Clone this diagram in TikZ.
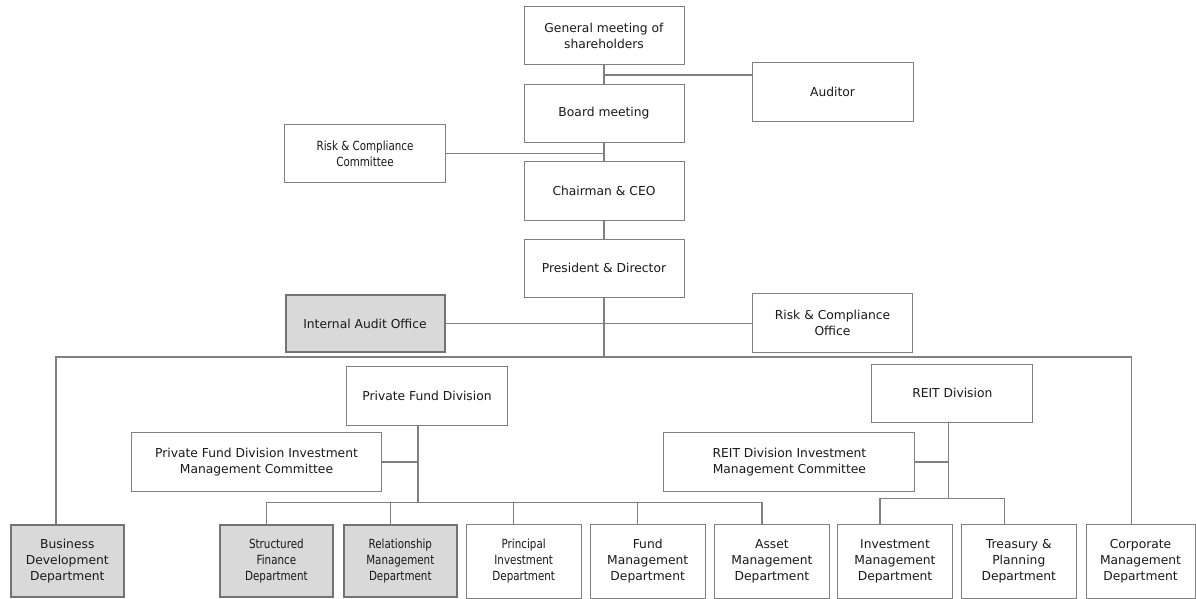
\documentclass[tikz,border=0pt]{standalone}
\usepackage{fontspec}
\setmainfont{DejaVu Sans}
\newfontfamily\narrowfont[FakeStretch=0.82]{DejaVu Sans}
\usepackage{tikz}
\usetikzlibrary{calc}

\definecolor{linegray}{RGB}{128,128,128}
\definecolor{boxfill}{RGB}{217,217,217}
\tikzset{
	box/.style={draw=linegray, line width=1pt, fill=white, inner sep=0pt, align=center,
		text=black!90, font=\fontsize{12.3}{16}\selectfont},
	greybox/.style={box, fill=boxfill, draw=black!55, line width=2pt},
	narrow/.style={font=\narrowfont\fontsize{12.6}{16}\selectfont},
	link/.style={draw=linegray, line width=1.2pt},
}

\begin{document}
\begin{tikzpicture}[x=1pt, y=-1pt]
		\useasboundingbox (0,0) rectangle (1196,599);
		
		\node[box, minimum width=160, minimum height=57.6] (GM) at (604,35.5){General meeting of\\shareholders};
		\node[box, minimum width=161, minimum height=58.7] (AUD) at (832.5,91.7){Auditor};
		\node[box, minimum width=160, minimum height=58.7] (BM) at (604,113.4){Board meeting};
		\node[box, narrow, minimum width=161, minimum height=58.4] (RCC) at (365,153.5){Risk \& Compliance\\Committee};
		\node[box, minimum width=160, minimum height=58.7] (CEO) at (604,191.3){Chairman \& CEO};
		\node[box, minimum width=160, minimum height=58] (PD) at (604,268){President \& Director};
		\node[greybox, minimum width=159, minimum height=57] (IAO) at (365,323.5){Internal Audit Office};
		\node[box, minimum width=160, minimum height=59] (RCO) at (832.5,322.5){Risk \& Compliance\\Office};
		
		\node[box, minimum width=161, minimum height=58.3] (PFD) at (427,396){Private Fund Division};
		\node[box, minimum width=250, minimum height=58.3] (PFC) at (256.5,462){Private Fund Division Investment\\Management Committee};
		\node[box, minimum width=161, minimum height=58.7] (RD) at (952.3,393.4){REIT Division};
		\node[box, minimum width=251, minimum height=58.3] (RDC) at (789.4,462){REIT Division Investment\\Management Committee};
		
		\node[greybox, minimum width=113.5, minimum height=72] (BDD) at (67.3,561){Business\\Development\\Department};
		\node[greybox, narrow, minimum width=113, minimum height=72] (SFD) at (276.4,561){Structured\\Finance\\Department};
		\node[greybox, narrow, minimum width=113, minimum height=72] (RMD) at (400.3,561){Relationship\\Management\\Department};
		\node[box, narrow, minimum width=115, minimum height=74] (PID) at (523.7,561){Principal\\Investment\\Department};
		\node[box, minimum width=115, minimum height=74] (FMD) at (647.7,561){Fund\\Management\\Department};
		\node[box, minimum width=115, minimum height=74] (AMD) at (771.9,561){Asset\\Management\\Department};
		\node[box, minimum width=115, minimum height=74] (IMD) at (895,561){Investment\\Management\\Department};
		\node[box, minimum width=115, minimum height=74] (TPD) at (1018.8,561){Treasury \&\\Planning\\Department};
		\node[box, minimum width=109, minimum height=74] (CMD) at (1140.5,561){Corporate\\Management\\Department};
		
		\coordinate (J1) at (604,75);
		\coordinate (BUS) at (604,357);
		\coordinate (BL) at (56,357);
		\coordinate (BR) at (1131.6,357);
		\coordinate (PFV) at (418,502.7);
		\coordinate (RDV) at (948.3,498.3);
		
		\draw[link] (GM.south) -- (BM.north);
		\draw[link] (J1) -- (J1 -| AUD.west);
		\draw[link] (BM.south) -- (CEO.north);
		\draw[link] (RCC.east) -- (RCC.east -| CEO.north);
		\draw[link] (CEO.south) -- (PD.north);
		\draw[link] (PD.south) -- (BUS);
		\draw[link] (IAO.east) -- (IAO.east -| RCO.west);
		\draw[link] (BL |- BDD.north) -- (BL) -- (BR) -- (BR |- CMD.north);
		
		\draw[link] ([xshift=-9pt]PFD.south) -- (PFV);
		\draw[link] (PFC.east) -- (PFC.east -| PFV);
		\draw[link] ([xshift=-10pt]SFD.north) -- ([xshift=-10pt]SFD.north |- PFV) -- ([xshift=-10pt]AMD.north |- PFV) -- ([xshift=-10pt]AMD.north);
		\foreach \d in {RMD,PID,FMD}
			\draw[link] ([xshift=-10pt]\d.north) -- ([xshift=-10pt]\d.north |- PFV);
		
		\draw[link] ([xshift=-4pt]RD.south) -- (RDV);
		\draw[link] (RDC.east) -- (RDC.east -| RDV);
		\draw[link] ([xshift=-15pt]IMD.north) -- ([xshift=-15pt]IMD.north |- RDV) -- ([xshift=-14pt]TPD.north |- RDV) -- ([xshift=-14pt]TPD.north);
	\end{tikzpicture}
\end{document}
